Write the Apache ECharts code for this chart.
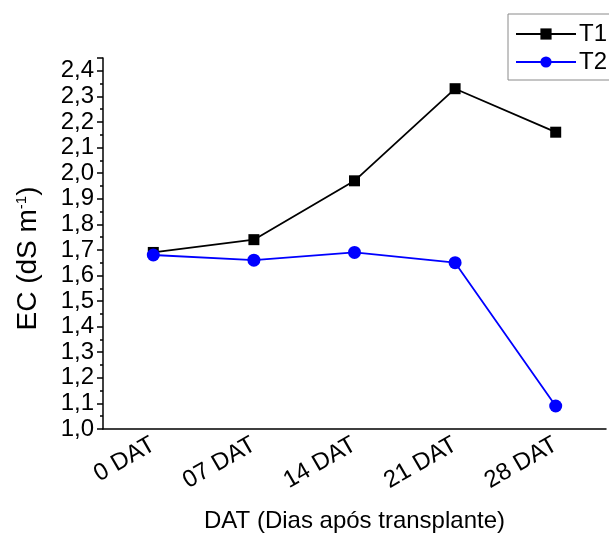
<!DOCTYPE html>
<html>
<head>
<meta charset="utf-8">
<script src="https://cdn.jsdelivr.net/npm/echarts@6/dist/echarts.min.js"></script>
<style>
  html, body { margin: 0; padding: 0; background: #fff; }
  #chart { width: 609px; height: 539px; }
</style>
</head>
<body>
<div id="chart"></div>
<script>
// Sampling days after transplanting
const categories = ['0 DAT', '07 DAT', '14 DAT', '21 DAT', '28 DAT'];
// Electrical conductivity (dS m-1) per treatment
const t1Values = [1.69, 1.74, 1.97, 2.33, 2.16];
const t2Values = [1.68, 1.66, 1.69, 1.65, 1.09];
const seriesNames = ['T1', 'T2'];

const FONT = '"Liberation Sans", Arial, sans-serif';
const chart = echarts.init(document.getElementById('chart'));

chart.setOption({
  backgroundColor: '#ffffff',
  animation: false,
  textStyle: { fontFamily: FONT, color: '#000' },
  grid: { left: 103, right: 3, top: 58, bottom: 110 },
  legend: {
    data: seriesNames,
    orient: 'vertical',
    left: 508,
    top: 14,
    padding: [8, 10, 6, 7],
    itemWidth: 60,
    itemHeight: 14,
    itemGap: 4,
    borderColor: '#8a8a8a',
    borderWidth: 1,
    textStyle: { fontFamily: FONT, fontSize: 24, color: '#000', padding: [0, 0, 0, -2] }
  },
  xAxis: [
    {
      type: 'category',
      data: categories,
      boundaryGap: true,
      axisLine: { lineStyle: { color: '#000', width: 1.5 } },
      axisTick: { alignWithLabel: true, length: 7, lineStyle: { color: '#000', width: 1.5 } },
      axisLabel: { rotate: 30, fontSize: 24, color: '#000', fontFamily: FONT, margin: 14 },
      name: 'DAT (Dias após transplante)',
      nameLocation: 'middle',
      nameGap: 80,
      nameTextStyle: { fontSize: 24, color: '#000', fontFamily: FONT }
    },
    {
      // boundary (minor) ticks between days
      type: 'category',
      data: categories,
      boundaryGap: true,
      position: 'bottom',
      axisLine: { show: false },
      axisTick: { length: 4, lineStyle: { color: '#000', width: 1.5 } },
      axisLabel: { show: false }
    }
  ],
  yAxis: {
    type: 'value',
    min: 1.0,
    max: 2.45,
    interval: 0.1,
    axisLine: { show: true, lineStyle: { color: '#000', width: 1.5 } },
    axisTick: { show: true, length: 6, lineStyle: { color: '#000', width: 1.5 } },
    minorTick: { show: true, splitNumber: 2, length: 3, lineStyle: { color: '#000', width: 1.5 } },
    splitLine: { show: false },
    axisLabel: {
      fontSize: 24,
      color: '#000',
      fontFamily: FONT,
      margin: 9,
      formatter: v => (v > 2.41 ? '' : v.toFixed(1).replace('.', ','))
    },
    name: 'EC (dS m{sup|-1})',
    nameLocation: 'middle',
    nameRotate: 90,
    nameGap: 61,
    nameTextStyle: {
      fontSize: 28,
      color: '#000',
      fontFamily: FONT,
      padding: [0, 30, 0, 0],
      rich: {
        sup: { fontSize: 15, verticalAlign: 'top', padding: [0, 0, 12, 0], fontFamily: FONT, color: '#000' }
      }
    }
  },
  series: [
    {
      name: 'T1',
      type: 'line',
      data: t1Values,
      symbol: 'rect',
      symbolSize: 11,
      color: '#000000',
      lineStyle: { color: '#000000', width: 1.8 },
      itemStyle: { color: '#000000' }
    },
    {
      name: 'T2',
      type: 'line',
      data: t2Values,
      symbol: 'circle',
      symbolSize: 13,
      color: '#0000ff',
      lineStyle: { color: '#0000ff', width: 1.8 },
      itemStyle: { color: '#0000ff' }
    }
  ]
});
</script>
</body>
</html>
